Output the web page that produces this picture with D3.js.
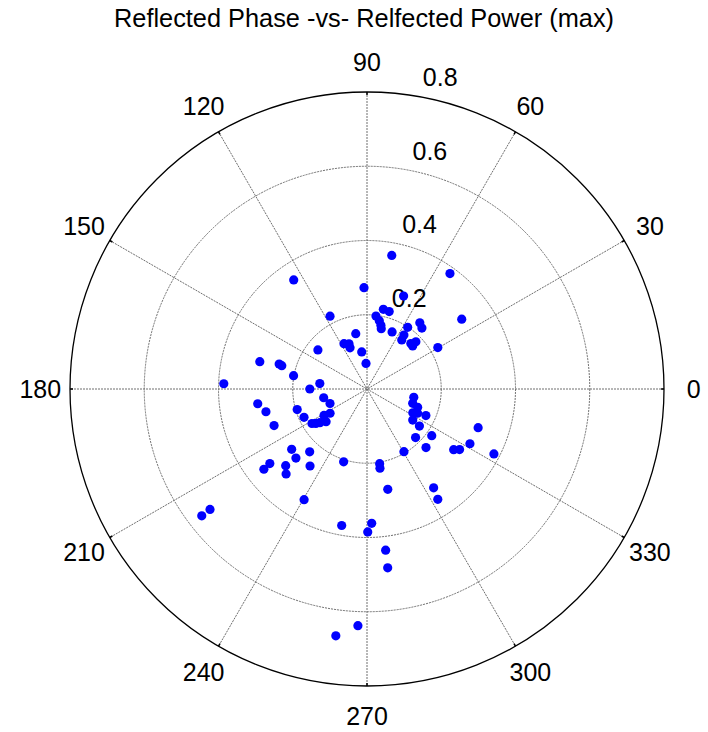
<!DOCTYPE html>
<html>
<head>
<meta charset="utf-8">
<script src="https://cdn.jsdelivr.net/npm/d3@7/dist/d3.min.js"></script>
<style>
  html, body { margin: 0; padding: 0; background: #fff; }
  svg text { font-family: "Liberation Sans", Arial, Helvetica, sans-serif; fill: #000; }
</style>
</head>
<body>
<svg id="chart" width="708" height="732"></svg>
<script>
// ---- data ----
const titleText = "Reflected Phase -vs- Relfected Power (max)";
const angleTicks = [0, 30, 60, 90, 120, 150, 180, 210, 240, 270, 300, 330];
const radialTicks = [0.2, 0.4, 0.6, 0.8];
const rMax = 0.8;
// reflected phase (degrees)
const phaseDeg = [
  123.9, 91.7, 116.9, 101.5, 116.9, 111.7, 112.4, 141.5, 98.1, 92.2,
  165.7, 164.1, 164.7, 169.7, 173.4, 180.0, 177.9, 79.5, 54.3, 68.5,
  78.4, 74.0, 36.4, 83.0, 79.8, 77.7, 76.7, 51.4, 48.0, 56.6,
  66.3, 55.6, 54.7, 46.0, 44.0, 43.3, 30.3, 187.7, 191.4, 201.4,
  192.7, 196.4, 213.3, 211.6, 204.2, 218.6, 215.6, 212.1, 213.9, 201.5,
  218.7, 227.6, 224.2, 252.2, 217.5, 217.9, 223.3, 226.4, 233.5, 240.4,
  217.5, 217.5, 259.5, 272.0, 270.3, 276.6, 276.6, 267.8, 262.8, 349.9,
  342.6, 340.2, 332.6, 334.4, 335.7, 325.8, 324.7, 340.8, 324.2, 315.0,
  332.0, 315.2, 325.0, 326.8, 332.9, 300.5, 279.6, 279.3, 281.7, 304.0,
  302.7
];
// reflected power (max)
const powerMax = [
  0.354, 0.273, 0.220, 0.152, 0.137, 0.131, 0.120, 0.169, 0.101, 0.069,
  0.298, 0.246, 0.238, 0.201, 0.128, 0.154, 0.386, 0.366, 0.383, 0.269,
  0.219, 0.217, 0.317, 0.198, 0.187, 0.176, 0.167, 0.228, 0.221, 0.199,
  0.168, 0.176, 0.162, 0.170, 0.183, 0.169, 0.221, 0.297, 0.119, 0.107,
  0.279, 0.196, 0.119, 0.136, 0.186, 0.141, 0.156, 0.175, 0.166, 0.269,
  0.260, 0.229, 0.267, 0.206, 0.330, 0.352, 0.301, 0.316, 0.258, 0.343,
  0.533, 0.561, 0.374, 0.362, 0.385, 0.437, 0.485, 0.638, 0.670, 0.128,
  0.129, 0.145, 0.139, 0.151, 0.174, 0.149, 0.173, 0.317, 0.215, 0.185,
  0.314, 0.224, 0.285, 0.298, 0.384, 0.196, 0.204, 0.216, 0.276, 0.321,
  0.353
];

// ---- layout ----
const cx = 367, cy = 389, R = 297;
const svg = d3.select("#chart");
const r = d3.scaleLinear().domain([0, rMax]).range([0, R]);
const toRad = d => d * Math.PI / 180;
const px = (deg, v) => cx + r(v) * Math.cos(toRad(deg));
const py = (deg, v) => cy - r(v) * Math.sin(toRad(deg));

const g = svg.append("g");

// inner rings (dotted)
g.selectAll("circle.ring")
  .data(radialTicks.filter(v => v < rMax))
  .enter().append("circle")
  .attr("class", "ring")
  .attr("cx", cx).attr("cy", cy)
  .attr("r", d => r(d))
  .attr("fill", "none")
  .attr("stroke", "#6e6e6e")
  .attr("stroke-width", 1)
  .attr("stroke-dasharray", "2,1");

// spokes (full diameters)
g.selectAll("line.spoke")
  .data(angleTicks.filter(a => a < 180))
  .enter().append("line")
  .attr("class", "spoke")
  .attr("x1", d => px(d, rMax)).attr("y1", d => py(d, rMax))
  .attr("x2", d => px(d + 180, rMax)).attr("y2", d => py(d + 180, rMax))
  .attr("stroke", "#6e6e6e")
  .attr("stroke-width", 1)
  .attr("stroke-dasharray", "2,1");

// outer circle
g.append("circle")
  .attr("cx", cx).attr("cy", cy).attr("r", r(rMax))
  .attr("fill", "none").attr("stroke", "#000").attr("stroke-width", 1.3);

// small ticks at spoke ends
g.selectAll("line.otick")
  .data(angleTicks)
  .enter().append("line")
  .attr("x1", d => px(d, rMax)).attr("y1", d => py(d, rMax))
  .attr("x2", d => px(d, rMax * 0.99)).attr("y2", d => py(d, rMax * 0.99))
  .attr("stroke", "#000").attr("stroke-width", 1.5);

// angle labels
g.selectAll("text.alab")
  .data(angleTicks)
  .enter().append("text")
  .attr("x", d => px(d, rMax * 1.1))
  .attr("y", d => py(d, rMax * 1.1))
  .attr("text-anchor", "middle")
  .attr("dominant-baseline", "central")
  .attr("font-size", 25)
  .text(d => d);

// radial labels at 82 degrees (MATLAB style)
g.selectAll("text.rlab")
  .data(radialTicks)
  .enter().append("text")
  .attr("x", d => px(82, d + 0.01) + 14)
  .attr("y", d => py(82, d + 0.01) - 5)
  .attr("font-size", 25)
  .text(d => d.toFixed(1));

// points
const pts = phaseDeg.map((p, i) => ({ p, v: powerMax[i] }));
g.selectAll("circle.pt")
  .data(pts)
  .enter().append("circle")
  .attr("cx", d => px(d.p, d.v))
  .attr("cy", d => py(d.p, d.v))
  .attr("r", 4.6)
  .attr("fill", "#0000ff");

// title
svg.append("text")
  .attr("x", 364).attr("y", 27)
  .attr("text-anchor", "middle")
  .attr("font-size", 25)
  .attr("textLength", 500)
  .attr("lengthAdjust", "spacingAndGlyphs")
  .text(titleText);
</script>
</body>
</html>
